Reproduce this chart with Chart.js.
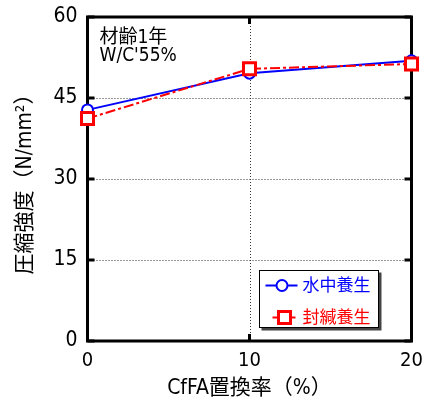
<!DOCTYPE html>
<html>
<head>
<meta charset="utf-8">
<script src="https://cdn.jsdelivr.net/npm/chart.js@4"></script>
<style>
  html, body { margin: 0; padding: 0; background: #fff; }
  #wrap { width: 424px; height: 401px; }
</style>
</head>
<body>
<div id="wrap"><canvas id="c" width="424" height="401"></canvas></div>
<script>
// CfFA replacement ratio (%)
const categories = [0, 10, 20];
// Compressive strength (N/mm2) by curing method
const waterCuring = [42.8, 49.6, 51.9];
const sealedCuring = [41.2, 50.4, 51.3];
const seriesNames = ['水中養生', '封緘養生'];
const xTicks = [0, 10, 20];
const yTicks = [0, 15, 30, 45, 60];
const xTitle = 'CfFA置換率（%）';
const yTitle = '圧縮強度（N/mm²）';
const noteLines = ['材齢1年', "W/C'55%"];

const FONT = "'Liberation Sans Narrow', 'DejaVu Sans Condensed', 'Noto Sans CJK JP', sans-serif";
const BLUE = '#0000ff';
const RED = '#ff0000';

const toPoints = vals => categories.map((x, i) => ({ x, y: vals[i] }));

// Frame, dotted grid and inward tick marks
const framePlugin = {
  id: 'frame',
  beforeDatasetsDraw(chart) {
    const { ctx, chartArea: a, scales: { x, y } } = chart;
    ctx.save();
    ctx.strokeStyle = '#333';
    ctx.lineWidth = 1;
    ctx.setLineDash([1, 2]);
    yTicks.forEach(v => {
      if (v === yTicks[0] || v === yTicks[yTicks.length - 1]) return;
      const py = Math.round(y.getPixelForValue(v)) + 0.5;
      ctx.beginPath(); ctx.moveTo(a.left, py); ctx.lineTo(a.right, py); ctx.stroke();
    });
    xTicks.forEach(v => {
      if (v === xTicks[0] || v === xTicks[xTicks.length - 1]) return;
      const px = Math.round(x.getPixelForValue(v)) + 0.5;
      ctx.beginPath(); ctx.moveTo(px, a.top); ctx.lineTo(px, a.bottom); ctx.stroke();
    });
    ctx.setLineDash([]);
    ctx.strokeStyle = '#000';
    ctx.lineWidth = 3;
    const len = 7;
    yTicks.forEach(v => {
      const py = y.getPixelForValue(v);
      ctx.beginPath();
      ctx.moveTo(a.left, py); ctx.lineTo(a.left + len, py);
      ctx.moveTo(a.right, py); ctx.lineTo(a.right - len, py);
      ctx.stroke();
    });
    xTicks.forEach(v => {
      const px = x.getPixelForValue(v);
      ctx.beginPath();
      ctx.moveTo(px, a.bottom); ctx.lineTo(px, a.bottom - len);
      ctx.moveTo(px, a.top); ctx.lineTo(px, a.top + len);
      ctx.stroke();
    });
    ctx.strokeRect(a.left, a.top, a.right - a.left, a.bottom - a.top);
    ctx.restore();
  }
};

// Note in the upper-left corner and the boxed legend
const overlayPlugin = {
  id: 'overlay',
  afterDraw(chart) {
    const { ctx, chartArea: a } = chart;
    ctx.save();
    ctx.fillStyle = '#000';
    ctx.font = '19px ' + FONT;
    ctx.textBaseline = 'top';
    ctx.textAlign = 'left';
    noteLines.forEach((t, i) => ctx.fillText(t, a.left + 12, a.top + 12 + i * 18));

    const bx = 259.5, by = 270.5, bw = 119, bh = 57;
    ctx.fillStyle = '#444';
    ctx.fillRect(bx + 2, by + 2, bw + 1, bh + 1);
    ctx.fillStyle = '#fff';
    ctx.fillRect(bx, by, bw, bh);
    ctx.strokeStyle = '#000';
    ctx.lineWidth = 1;
    ctx.strokeRect(bx, by, bw, bh);

    ctx.font = '17px ' + FONT;
    ctx.textBaseline = 'middle';
    chart.data.datasets.slice().sort((p, q) => p.legendIndex - q.legendIndex).forEach((ds, i) => {
      const cy = by + 15 + i * 32;
      ctx.strokeStyle = ds.borderColor;
      ctx.lineWidth = 2;
      ctx.beginPath();
      if (ds.pointStyle === 'circle') {
        ctx.moveTo(bx + 6, cy); ctx.lineTo(bx + 38, cy); ctx.stroke();
        ctx.fillStyle = '#fff';
        ctx.beginPath(); ctx.arc(bx + 22.5, cy, 5.5, 0, Math.PI * 2); ctx.fill(); ctx.stroke();
      } else {
        ctx.moveTo(bx + 13, cy); ctx.lineTo(bx + 36, cy); ctx.stroke();
        ctx.lineWidth = 3;
        ctx.fillStyle = '#fff';
        ctx.fillRect(bx + 19, cy - 6, 12, 12);
        ctx.strokeRect(bx + 19, cy - 6, 12, 12);
      }
      ctx.fillStyle = ds.borderColor;
      ctx.fillText(ds.label, bx + 43, cy + 1);
    });
    ctx.restore();
  }
};

new Chart(document.getElementById('c'), {
  type: 'line',
  data: {
    datasets: [
      {
        label: seriesNames[1],
        legendIndex: 1,
        data: toPoints(sealedCuring),
        borderColor: RED,
        borderWidth: 2,
        borderDash: [10, 3, 3, 3],
        pointStyle: 'rect',
        pointRadius: 8.5,
        pointBorderWidth: 3,
        pointBorderColor: RED,
        pointBackgroundColor: '#fff',
        clip: false,
        order: 0
      },
      {
        label: seriesNames[0],
        legendIndex: 0,
        data: toPoints(waterCuring),
        borderColor: BLUE,
        borderWidth: 2,
        pointStyle: 'circle',
        pointRadius: 5.5,
        pointBorderWidth: 2,
        pointBorderColor: BLUE,
        pointBackgroundColor: '#fff',
        clip: false,
        order: 1
      }
    ]
  },
  options: {
    responsive: false,
    animation: false,
    layout: { padding: { top: 17, right: 12.5, left: 0, bottom: 0 } },
    plugins: { legend: { display: false }, tooltip: { enabled: false } },
    scales: {
      x: {
        type: 'linear',
        min: 0, max: 20,
        afterBuildTicks: s => { s.ticks = xTicks.map(v => ({ value: v })); },
        afterFit: s => { s.height = 60; s.paddingLeft = 0; s.paddingRight = 0; },
        grid: { display: false, drawTicks: false },
        border: { display: false },
        ticks: { color: '#000', padding: 8, maxRotation: 0, font: { family: FONT, size: 20 } },
        title: { display: true, text: xTitle, color: '#000', padding: { top: 2, bottom: 0 }, font: { family: FONT, size: 21 } }
      },
      y: {
        min: 0, max: 60,
        afterBuildTicks: s => { s.ticks = yTicks.map(v => ({ value: v })); },
        afterFit: s => { s.width = 87.5; s.paddingTop = 0; s.paddingBottom = 0; },
        grid: { display: false, drawTicks: false },
        border: { display: false },
        ticks: { color: '#000', padding: 10, font: { family: FONT, size: 21 } },
        title: { display: true, text: yTitle, color: '#000', padding: { top: 13, bottom: 0 }, font: { family: FONT, size: 21 } }
      }
    }
  },
  plugins: [framePlugin, overlayPlugin]
});
</script>
</body>
</html>
